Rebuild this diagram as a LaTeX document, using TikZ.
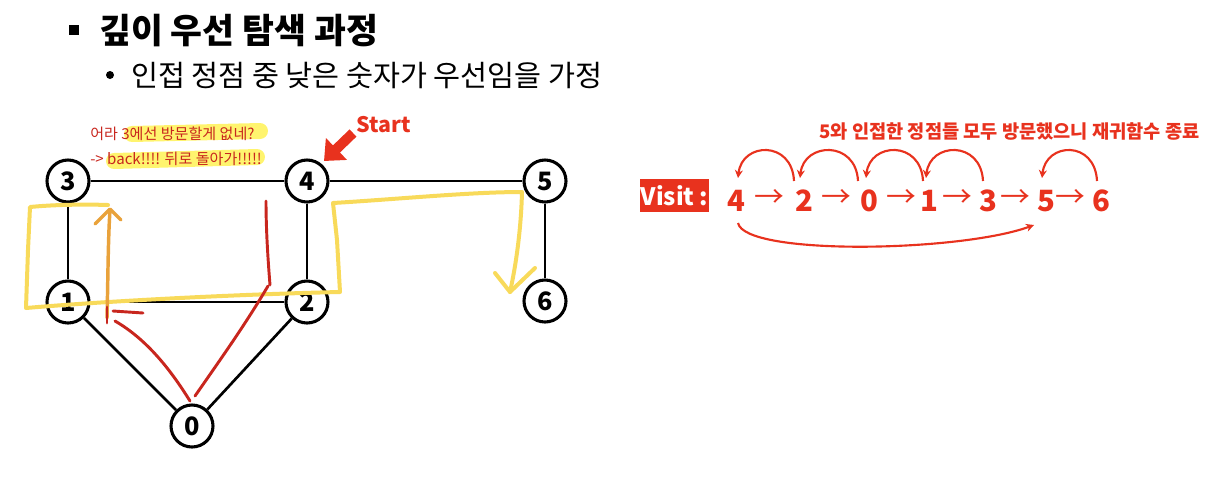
\documentclass[tikz,border=0pt]{standalone}
\usepackage{fontspec}
\usepackage{graphicx}
\setmainfont{Noto Sans CJK KR}
\usetikzlibrary{arrows.meta}
\definecolor{vred}{HTML}{E8321E}
\definecolor{dred}{HTML}{C8261E}
\definecolor{hl}{HTML}{FFF46E}
\definecolor{ylw}{HTML}{F8DA5A}
\definecolor{org}{HTML}{E9A23B}
\newcommand{\seqto}{\scalebox{1.12}[1.1]{→}}
\tikzset{
  vert/.style={circle,draw=black,line width=2.3pt,fill=white,minimum size=31.5pt,inner sep=0pt,font=\fontsize{19}{19}\selectfont\bfseries},
  edge/.style={line width=2pt,black},
  seq/.style={inner sep=0pt,text=vred,font=\fontsize{22}{22}\selectfont\bfseries},
  seqarr/.style={inner sep=0pt,text=vred,font=\fontsize{20}{20}\selectfont},
  backarc/.style={vred,line width=1.6pt,-{Stealth[length=6pt,width=6pt]}},
  ypen/.style={ylw,line width=3pt,line cap=round,line join=round},
  rpen/.style={dred,line width=2.2pt,line cap=round,line join=round},
  opn/.style={org,line width=2.6pt,line cap=round,line join=round},
}
\begin{document}
\begin{tikzpicture}[x=0.75pt,y=-0.75pt]
\useasboundingbox (0,0) rectangle (1212,476);
% title
\node[fill=black,minimum size=8pt,inner sep=0pt] (bul1) at (74,30) {};
\node[anchor=west,inner sep=0pt,font=\fontsize{26}{26}\selectfont\bfseries] (title) at (99,31) {깊이 우선 탐색 과정};
\node[circle,fill=black,minimum size=6pt,inner sep=0pt] (bul2) at (110,75) {};
\node[anchor=west,inner sep=0pt,font=\fontsize{22}{22}\selectfont] (sub) at (131,75) {인접 정점 중 낮은 숫자가 우선임을 가정};
% highlights
\draw[hl,line width=12pt,line cap=round] (132,134) -- (260,131);
\draw[hl,line width=12pt,line cap=round] (114,161) -- (257,157);
\node[anchor=west,inner sep=0pt,text=dred,font=\fontsize{11.3}{11.3}\selectfont] (note1) at (90,134) {어라 3에선 방문할게 없네?};
\node[anchor=west,inner sep=0pt,text=dred,font=\fontsize{11.3}{11.3}\selectfont] (note2) at (90,159) {-> back!!!! 뒤로 돌아가!!!!!};
% graph
\node[vert] (n3) at (68,181) {3};
\node[vert] (n4) at (307,181) {4};
\node[vert] (n5) at (545,181) {5};
\node[vert] (n1) at (68,302) {1};
\node[vert] (n2) at (307,302) {2};
\node[vert] (n6) at (545,301) {6};
\node[vert] (n0) at (192,426) {0};
\draw[edge] (n3) -- (n4);
\draw[edge] (n4) -- (n5);
\draw[edge] (n3) -- (n1);
\draw[edge] (n4) -- (n2);
\draw[edge] (n5) -- (n6);
\draw[edge] (n1) -- (n2);
\draw[edge] (n1) -- (n0);
\draw[edge] (n2) -- (n0);
% start
\node[anchor=west,inner sep=0pt,text=vred,font=\fontsize{16}{16}\selectfont\bfseries] (start) at (356,125) {Start};
\coordinate (st1) at (353,133);
\coordinate (st2) at (324,161);
\draw[vred,line width=7.5pt,-{Triangle[length=13pt,width=22pt]}] (st1) -- (st2);
% yellow pen
\draw[ypen] (108,205) .. controls (80,204) and (50,205) .. (30,207) -- (28,250) -- (26,308) .. controls (120,300) and (250,294) .. (340,292) -- (337,240) -- (333,203) .. controls (400,199) and (470,192) .. (522,192) .. controls (521,230) and (516,265) .. (510,292);
\draw[ypen] (495,273) -- (510,292) -- (535,268);
% orange pen
\draw[opn] (107,318) .. controls (108,280) and (108,240) .. (110,210);
\draw[opn] (95,224) -- (110,209) -- (121,220);
% red pen
\draw[rpen] (190,401) .. controls (172,372) and (148,340) .. (115,321);
\draw[rpen] (107,323) -- (107,307);
\draw[rpen] (113,311) -- (143,313);
\draw[rpen] (195,396) .. controls (220,360) and (245,325) .. (268,286);
\draw[rpen] (270,285) .. controls (268,260) and (266,230) .. (266,201);
% visit
\node[fill=vred,text=white,minimum width=52pt,minimum height=25pt,inner sep=0pt,font=\fontsize{18}{18}\selectfont\bfseries] (visit) at (674.5,195.5) {Visit :};
\node[seq] (v4) at (736,201) {4};
\node[seqarr] (r1) at (769,199) {\seqto};
\node[seq] (v2) at (804,201) {2};
\node[seqarr] (r2) at (836.5,199) {\seqto};
\node[seq] (v0) at (869,201) {0};
\node[seqarr] (r3) at (901.5,199) {\seqto};
\node[seq] (v1) at (929,201) {1};
\node[seqarr] (r4) at (957.5,199) {\seqto};
\node[seq] (v3) at (988,201) {3};
\node[seqarr] (r5) at (1015.5,199) {\seqto};
\node[seq] (v5) at (1046,201) {5};
\node[seqarr] (r6) at (1070,199) {\seqto};
\node[seq] (v6) at (1101,201) {6};
% back arcs
\coordinate (s2) at (794,181); \coordinate (e4) at (738,178);
\coordinate (s0) at (858,181); \coordinate (e2) at (800,178);
\coordinate (s1) at (923,181); \coordinate (e0) at (866,178);
\coordinate (s3) at (983,181); \coordinate (e1) at (926,178);
\coordinate (s6) at (1097,181); \coordinate (e5) at (1042,178);
\draw[backarc] (s2) .. controls (792,140) and (742,142) .. (e4);
\draw[backarc] (s0) .. controls (856,140) and (804,142) .. (e2);
\draw[backarc] (s1) .. controls (921,140) and (870,142) .. (e0);
\draw[backarc] (s3) .. controls (981,140) and (930,142) .. (e1);
\draw[backarc] (s6) .. controls (1095,140) and (1046,142) .. (e5);
\coordinate (b4) at (738,223); \coordinate (b5) at (1034,225);
\draw[backarc] (b4) .. controls (745,256) and (960,252) .. (b5);
\node[anchor=east,inner sep=0pt,text=vred,font=\fontsize{14}{14}\selectfont\bfseries] (fin) at (1200,131) {5와 인접한 정점들 모두 방문했으니 재귀함수 종료};
\end{tikzpicture}
\end{document}
